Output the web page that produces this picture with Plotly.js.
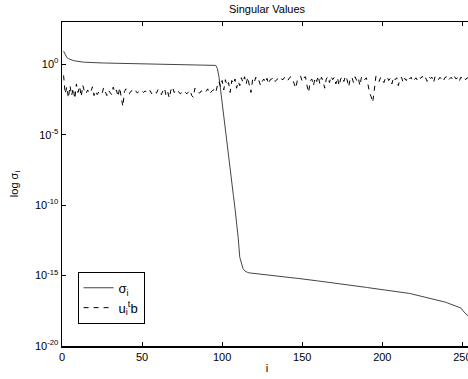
<!DOCTYPE html>
<html>
<head>
<meta charset="utf-8">
<script src="https://cdn.plot.ly/plotly-3.0.1.min.js"></script>
<style>
html,body{margin:0;padding:0;overflow:hidden;background:#fff;}
#chart{width:472px;height:379px;}
</style>
</head>
<body>
<div id="chart"></div>
<script>
// index i = 1..256
var indexValues = [];
for (var k = 1; k <= 256; k++) indexValues.push(k);

// singular values sigma_i
var sigmaValues = [
8.5,4.5,3.0,2.5,2.2,2.0,1.85,1.75,1.65,1.58,
1.52,1.47,1.43,1.40,1.37,1.34,1.32,1.30,1.28,1.26,
1.25,1.245,1.24,1.235,1.23,1.225,1.22,1.215,1.21,1.205,
1.2,1.198,1.195,1.19,1.188,1.185,1.18,1.178,1.175,1.17,
1.165,1.16,1.154,1.148,1.143,1.137,1.131,1.126,1.12,1.114,
1.109,1.103,1.097,1.092,1.086,1.08,1.075,1.069,1.063,1.058,
1.052,1.046,1.041,1.035,1.029,1.024,1.018,1.012,1.007,1.001,
0.995,0.99,0.984,0.978,0.973,0.967,0.961,0.956,0.95,0.944,
0.939,0.933,0.927,0.922,0.916,0.91,0.905,0.899,0.893,0.888,
0.882,0.876,0.871,0.865,0.86,0.83,0.5,0.13,1.6e-2,1.6e-3,
1.6e-4,1.8e-5,2e-6,2.5e-7,3e-8,4e-9,5e-10,6e-11,6e-12,5e-13,
2e-14,6e-15,3.2e-15,2.2e-15,1.8e-15,1.65e-15,1.55e-15,1.5e-15,1.45e-15,1.4e-15,
1.349e-15,1.288e-15,1.23e-15,1.202e-15,1.148e-15,1.122e-15,1.096e-15,1.072e-15,1.047e-15,1.0e-15,
9.77e-16,9.55e-16,9.33e-16,9.12e-16,8.71e-16,8.51e-16,8.32e-16,8.13e-16,7.94e-16,7.59e-16,
7.41e-16,7.24e-16,7.08e-16,6.92e-16,6.61e-16,6.46e-16,6.31e-16,6.17e-16,6.03e-16,5.75e-16,
5.57e-16,5.38e-16,5.21e-16,5.04e-16,4.88e-16,4.72e-16,4.56e-16,4.42e-16,4.27e-16,4.13e-16,
4.0e-16,3.86e-16,3.74e-16,3.61e-16,3.5e-16,3.39e-16,3.27e-16,3.17e-16,3.06e-16,2.96e-16,
2.87e-16,2.77e-16,2.69e-16,2.59e-16,2.51e-16,2.42e-16,2.33e-16,2.25e-16,2.17e-16,2.09e-16,
2.01e-16,1.94e-16,1.87e-16,1.8e-16,1.74e-16,1.67e-16,1.61e-16,1.56e-16,1.5e-16,1.45e-16,
1.39e-16,1.34e-16,1.29e-16,1.25e-16,1.2e-16,1.16e-16,1.12e-16,1.08e-16,1.04e-16,1.0e-16,
9.73e-17,9.48e-17,9.23e-17,8.98e-17,8.75e-17,8.51e-17,8.28e-17,8.07e-17,7.85e-17,7.64e-17,
7.45e-17,7.24e-17,6.82e-17,6.44e-17,6.07e-17,5.71e-17,5.38e-17,5.08e-17,4.79e-17,4.51e-17,
4.26e-17,4.01e-17,3.78e-17,3.56e-17,3.36e-17,3.16e-17,2.97e-17,2.79e-17,2.62e-17,2.46e-17,
2.31e-17,2.17e-17,2.04e-17,1.91e-17,1.8e-17,1.69e-17,1.58e-17,1.45e-17,1.33e-17,1.22e-17,
1.12e-17,1.02e-17,9.38e-18,8.59e-18,7.87e-18,7.21e-18,6.61e-18,6.03e-18,5.01e-18,3.55e-18,
2.51e-18,1.78e-18,1.51e-18,1.41e-18,1.35e-18,1.26e-18
];

// |u_i^T b|
var utbValues = [
1.6e-1,8e-3,2.5e-2,4e-3,3e-2,6e-3,2e-2,3.5e-3,4e-2,1e-2,
2.8e-2,5e-3,3.2e-2,1.2e-2,8e-3,1.5e-2,9e-3,1.1e-2,2.5e-2,6e-3,
1.3e-2,7e-3,1.1e-2,9e-3,8e-3,2.2e-2,1.1e-2,6e-3,1.4e-2,1e-2,
7e-3,2.4e-2,1e-2,1.5e-2,5e-3,2.2e-2,6e-3,1e-3,1.2e-2,1.8e-2,
1e-2,8e-3,1.2e-2,1.4e-2,1e-2,1.3e-2,9e-3,1.1e-2,1.5e-2,1.2e-2,
1e-2,1.3e-2,9e-3,1.1e-2,1.4e-2,8e-3,1.2e-2,1.1e-2,9e-3,1.6e-2,
1.1e-2,7e-3,1.3e-2,2e-2,6e-3,1.1e-2,4e-3,1.5e-2,2.5e-2,1e-2,
1.2e-2,1.6e-2,1e-2,8e-3,1.2e-2,1.3e-2,1e-2,8e-3,1.1e-2,1.4e-2,
6e-3,4.5e-3,2e-2,1.3e-2,1e-2,9e-3,1.3e-2,1.1e-2,9e-3,1.2e-2,
1.8e-2,8e-3,1.1e-2,1.4e-2,1.6e-2,1e-2,3e-2,6e-2,2.5e-2,7e-2,
1.5e-2,8e-2,3e-2,5e-2,1e-2,7e-2,4e-2,9e-2,2e-2,6e-2,
3e-2,1.1e-1,5e-2,1.3e-1,4e-2,1.2e-1,3e-2,1e-2,8e-2,5e-2,
1.2e-1,6e-2,7e-2,3e-2,6e-2,9e-2,5e-2,1e-1,4e-2,8e-2,
9e-2,1.2e-1,6e-2,8e-2,1e-1,1.3e-1,9e-2,8e-2,1.2e-1,1e-1,
7e-2,1.1e-1,1.3e-1,9e-2,4e-2,2e-2,8e-2,1.2e-1,1.4e-1,6e-2,
1.1e-1,1.3e-1,3e-2,1e-2,7e-2,9e-2,3e-2,1.1e-1,6e-2,1.5e-1,
4e-2,1.2e-1,7e-2,2e-2,9e-2,1.3e-1,5e-2,1.4e-1,8e-2,1.2e-1,
4e-2,1.1e-1,3e-2,9e-2,1.3e-1,6e-2,1.5e-1,8e-2,2.5e-2,1e-1,
1.2e-1,5e-2,1.3e-1,7e-2,1.1e-1,3e-2,1.2e-1,1.4e-1,8e-2,1.1e-1,
4e-2,1e-2,5e-3,2e-3,1.5e-2,1.4e-1,9e-2,6e-2,1.2e-1,8e-2,
5e-2,1.1e-1,1.3e-1,7e-2,1e-1,4e-2,1.2e-1,8e-2,1.1e-1,3e-2,
9e-2,1.2e-1,5e-2,1e-1,7e-2,1.3e-1,9e-2,1.2e-1,6e-2,8e-2,
1.1e-1,7e-2,1.2e-1,1e-1,1.4e-1,8e-2,1.1e-1,6e-2,1.3e-1,1e-1,
1.2e-1,5e-2,1.4e-1,1.1e-1,8e-2,1.2e-1,9e-2,6e-2,1.1e-1,1.3e-1,
7e-2,1e-1,1.2e-1,8e-2,1.4e-1,9e-2,1.1e-1,6e-2,1.2e-1,1e-1,
1.3e-1,8e-2,1.1e-1,9e-2,1.2e-1,1e-1
];

var xTickValues = [0, 50, 100, 150, 200, 250];
var yTickValues = [1e-20, 1e-15, 1e-10, 1e-5, 1e0];
var yTickLabels = ['10<sup>-20</sup>', '10<sup>-15</sup>', '10<sup>-10</sup>', '10<sup>-5</sup>', '10<sup>0</sup>'];

var seriesNames = ['σ<sub>i</sub>', 'u<sub>i</sub><sup>t</sup>b'];

var traces = [
  {x: indexValues, y: sigmaValues, type: 'scatter', mode: 'lines', name: seriesNames[0],
   line: {color: '#444', width: 1}},
  {x: indexValues, y: utbValues, type: 'scatter', mode: 'lines', name: seriesNames[1],
   line: {color: '#000', width: 1, dash: '5px,5px'}}
];

var fontFam = 'Liberation Sans, Arial, Helvetica, sans-serif';
var layout = {
  width: 472, height: 379,
  margin: {l: 62, r: 0, t: 22, b: 33, pad: 0},
  paper_bgcolor: '#fff', plot_bgcolor: '#fff',
  font: {family: fontFam, size: 11, color: '#000'},
  showlegend: true,
  title: {text: 'Singular Values', font: {size: 11, family: fontFam, color: '#000'},
          x: 0.5, xref: 'paper', y: 0.975, yref: 'container', xanchor: 'center', yanchor: 'middle'},
  xaxis: {
    range: [0, 256], tickvals: xTickValues, ticktext: xTickValues.map(String),
    ticks: 'inside', ticklen: 4, tickwidth: 1, tickcolor: '#000',
    showline: true, linecolor: '#000', linewidth: 1.5, mirror: 'ticks',
    showgrid: false, zeroline: false,
    tickfont: {size: 11, family: fontFam},
    title: {text: 'i', font: {size: 11, family: fontFam}, standoff: 2}
  },
  yaxis: {
    type: 'log', range: [-20, 3], tickvals: yTickValues, ticktext: yTickLabels,
    ticks: 'inside', ticklen: 4, tickwidth: 1, tickcolor: '#000',
    showline: true, linecolor: '#000', linewidth: 1.5, mirror: 'ticks',
    showgrid: false, zeroline: false,
    tickfont: {size: 11, family: fontFam},
    title: {text: 'log σ<sub>i</sub>', font: {size: 11, family: fontFam}, standoff: 14}
  },
  legend: {
    x: 0.038, y: 0.229, xanchor: 'left', yanchor: 'top',
    bgcolor: '#fff', bordercolor: '#000', borderwidth: 1,
    font: {size: 13, family: fontFam}, itemwidth: 30, tracegroupgap: 0
  }
};

Plotly.newPlot('chart', traces, layout, {displayModeBar: false, staticPlot: true});
</script>
</body>
</html>
